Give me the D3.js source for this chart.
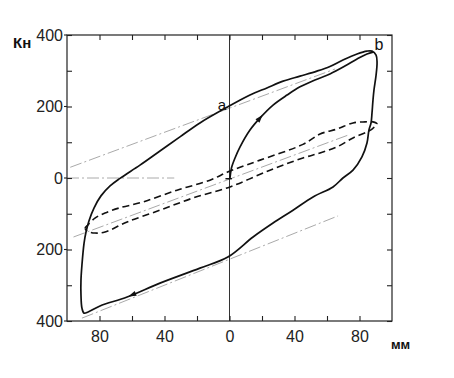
<!DOCTYPE html>
<html>
<head>
<meta charset="utf-8">
<script src="https://cdn.jsdelivr.net/npm/d3@7"></script>
<style>
  body { margin: 0; background: #fff; }
  svg { display: block; }
  .axis text { font-family: "Liberation Sans", Arial, sans-serif; font-size: 16px; fill: #222; }
  .axis line { stroke: #222; stroke-width: 1.1; }
  .axis path { display: none; }
  .guide { fill: none; stroke: #aaa; stroke-width: 1; stroke-dasharray: 12,3,2,3; }
  .loop { fill: none; stroke: #111; stroke-width: 1.7; }
  .dashed { fill: none; stroke: #111; stroke-width: 1.6; stroke-dasharray: 7,4; }
</style>
</head>
<body>
<svg width="454" height="378"></svg>
<script>
const w = 454, h = 378;

// tick values (mm, kN)
const xTicks = [-80, -60, -40, -20, 0, 20, 40, 60, 80];
const xLabels = [-80, -40, 0, 40, 80];
const yTicks = [-400, -300, -200, -100, 0, 100, 200, 300, 400];
const yLabels = [-400, -200, 0, 200, 400];

// main hysteresis loop, starting at point a, clockwise  [mm, kN]
const outerLoop = [
  [-1, 199], [12.6, 232], [23, 252], [33, 271], [43.4, 285], [53.8, 299],
  [61.8, 312], [69.8, 330], [78.5, 347], [84.6, 355], [87.7, 355], [90.2, 344],
  [90.8, 324], [90.2, 288], [88.9, 246], [88.3, 218], [87.7, 182], [87.1, 154],
  [85.8, 134], [84.6, 98], [81.5, 59], [76, 22], [69.8, 0], [63.7, -25],
  [51.4, -53], [39.1, -90], [26.8, -126], [14.5, -165], [-1, -221], [-18.2, -252],
  [-42.8, -294], [-63, -333], [-79.7, -358], [-87, -375], [-89.5, -378], [-90.8, -364],
  [-91.4, -327], [-91.4, -285], [-90.8, -243], [-89.5, -182], [-88.3, -151], [-86.5, -120],
  [-83.4, -84], [-79.1, -50], [-73.5, -22], [-67.4, -1], [-55.1, 36], [-42.8, 75.5],
  [-30.5, 115], [-18.2, 154], [-1, 199]
];

// first loading from the origin to b
const loading = [
  [0.3, 0], [1.2, 28], [3.4, 56], [6.5, 87], [12.6, 134], [18.8, 168],
  [26.8, 204], [35.4, 232], [43.4, 255], [52.6, 274], [61.8, 291], [71, 313],
  [78.5, 333], [84.6, 347], [88.3, 352]
];

// smaller dashed loop
const dashedLoop = [
  [-89, -140], [-87.7, -134], [-82.8, -112], [-76.6, -98], [-68, -84], [-53.2, -67],
  [-32.3, -34], [-12, -6], [-1.5, 16], [6.5, 30], [18.8, 50], [45.2, 94],
  [55.7, 123], [66.2, 137], [76, 154], [83.4, 157], [88.3, 157], [90.8, 151],
  [87.7, 137], [84.6, 129], [76, 112], [66.2, 87], [55.7, 70], [45.2, 56],
  [24.9, 22], [0.3, -25], [-22.5, -56], [-42.8, -90], [-63, -123], [-76.6, -151],
  [-82.8, -154], [-87.7, -148], [-89, -140]
];

// thin dash-dot reference lines
const guides = [
  [[-98, 30], [65, 305]],
  [[-100, 0], [-34, 0]],
  [[-96, -165], [73, 120]],
  [[-90.8, -392], [66.8, -106]]
];

// direction arrows [mm, kN, angle in degrees]
const arrows = [
  [18.8, 168, -50],
  [-60, -327, 158]
];

const x = d3.scaleLinear().domain([-100, 100]).range([67, 392]);
const y = d3.scaleLinear().domain([-400, 400]).range([321, 35]);
const svg = d3.select("svg");

const line = d3.line().x(d => x(d[0])).y(d => y(d[1])).curve(d3.curveCatmullRom.alpha(0.5));
const straight = d3.line().x(d => x(d[0])).y(d => y(d[1]));

// guides under everything
svg.selectAll("path.guide").data(guides).join("path").attr("class", "guide").attr("d", straight);

// zero vertical line
svg.append("line")
  .attr("x1", x(0)).attr("x2", x(0)).attr("y1", y(400)).attr("y2", y(-400))
  .attr("stroke", "#333").attr("stroke-width", 1);

// axes with inward ticks
const fmt = step => d => d % step === 0 ? Math.abs(d) : "";
svg.append("g").attr("class", "axis").attr("transform", `translate(0,${y(-400)})`)
  .call(d3.axisBottom(x).tickValues(xTicks).tickSizeInner(-5).tickSizeOuter(0).tickPadding(10).tickFormat(fmt(40)));
svg.append("g").attr("class", "axis").attr("transform", `translate(0,${y(400)})`)
  .call(d3.axisTop(x).tickValues(xTicks).tickSizeInner(-5).tickSizeOuter(0).tickFormat(""));
svg.append("g").attr("class", "axis").attr("transform", `translate(${x(-100)},0)`)
  .call(d3.axisLeft(y).tickValues(yTicks).tickSizeInner(-5).tickSizeOuter(0).tickPadding(4).tickFormat(fmt(200)));
svg.append("g").attr("class", "axis").attr("transform", `translate(${x(100)},0)`)
  .call(d3.axisRight(y).tickValues(yTicks).tickSizeInner(-5).tickSizeOuter(0).tickFormat(""));

// small outer ticks at the labelled values on the left
svg.selectAll("line.lt").data(yLabels).join("line").attr("class", "lt")
  .attr("x1", x(-100) - 3).attr("x2", x(-100))
  .attr("y1", d => y(d)).attr("y2", d => y(d))
  .attr("stroke", "#222").attr("stroke-width", 1.1);

// frame
svg.append("rect")
  .attr("x", x(-100)).attr("y", y(400))
  .attr("width", x(100) - x(-100)).attr("height", y(-400) - y(400))
  .attr("fill", "none").attr("stroke", "#222").attr("stroke-width", 1.2);

// curves
svg.append("path").attr("class", "dashed").attr("d", line(dashedLoop));
svg.append("path").attr("class", "loop").attr("d", line(outerLoop));
svg.append("path").attr("class", "loop").attr("d", line(loading));

// loading origin mark
svg.append("line")
  .attr("x1", x(-2.5)).attr("x2", x(1.5)).attr("y1", y(-2)).attr("y2", y(-2))
  .attr("stroke", "#111").attr("stroke-width", 1.4);

// arrowheads
svg.selectAll("path.arrow").data(arrows).join("path").attr("class", "arrow")
  .attr("d", "M4,0 L-4,-2.6 L-4,2.6 Z")
  .attr("fill", "#111")
  .attr("transform", d => `translate(${x(d[0])},${y(d[1])}) rotate(${d[2]})`);

// unit labels and point labels
const txt = (s, px, py, size, weight, anchor) => svg.append("text")
  .attr("x", px).attr("y", py).text(s)
  .style("font-family", "'Liberation Sans', Arial, sans-serif")
  .style("font-size", size + "px").style("font-weight", weight)
  .attr("text-anchor", anchor || "start").attr("fill", "#111");

txt("Кн", 13, 48, 15, "bold");
txt("мм", 391, 349, 13, "bold");
txt("a", 222, 110, 15, "normal", "middle");
txt("b", 379, 50, 16, "normal", "middle");
</script>
</body>
</html>
